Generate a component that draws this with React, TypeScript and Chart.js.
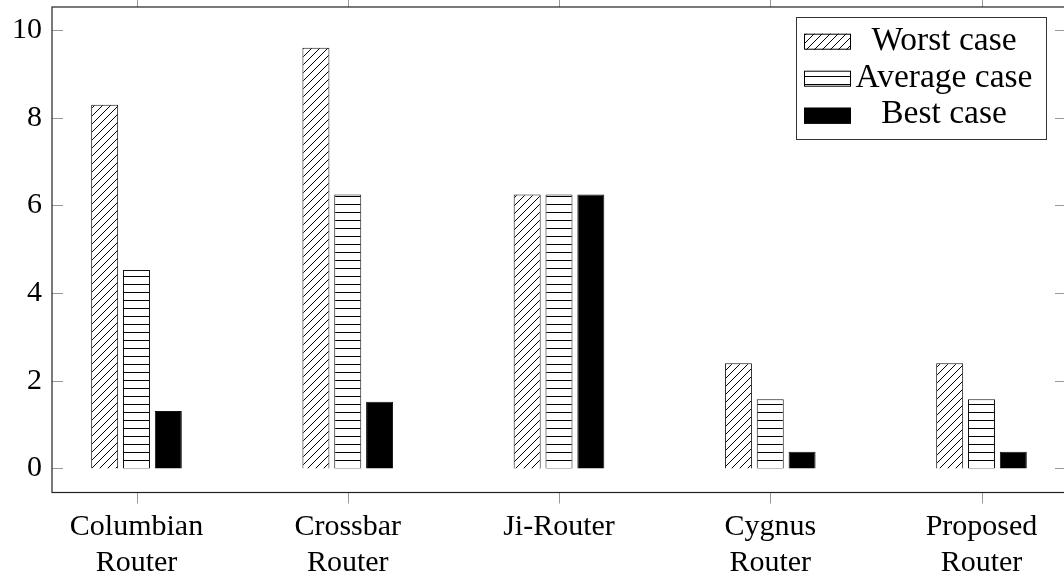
import React, { useEffect, useRef } from "react";
import { Chart, registerables } from "chart.js";

Chart.register(...registerables);

const categories: string[][] = [
  ["Columbian", "Router"],
  ["Crossbar", "Router"],
  ["Ji-Router"],
  ["Cygnus", "Router"],
  ["Proposed", "Router"],
];
const seriesNames = ["Worst case", "Average case", "Best case"];
const worstCase = [8.3, 9.6, 6.25, 2.4, 2.4];
const averageCase = [4.53, 6.25, 6.25, 1.58, 1.58];
const bestCase = [1.31, 1.52, 6.25, 0.38, 0.38];
const yTicks = [0, 2, 4, 6, 8, 10];

const FONT = "'Liberation Serif', 'Times New Roman', serif";

function makeDiag(): CanvasPattern | string {
  const s = 8;
  const c = document.createElement("canvas");
  c.width = s;
  c.height = s;
  const g = c.getContext("2d");
  if (!g) return "#fff";
  g.fillStyle = "#fff";
  g.fillRect(0, 0, s, s);
  g.strokeStyle = "#000";
  g.lineWidth = 1;
  g.beginPath();
  g.moveTo(-1, s + 1);
  g.lineTo(s + 1, -1);
  g.moveTo(-1, 1);
  g.lineTo(1, -1);
  g.moveTo(s - 1, s + 1);
  g.lineTo(s + 1, s - 1);
  g.stroke();
  return g.createPattern(c, "repeat") || "#fff";
}

function makeHoriz(): CanvasPattern | string {
  const s = 8;
  const c = document.createElement("canvas");
  c.width = s;
  c.height = s;
  const g = c.getContext("2d");
  if (!g) return "#fff";
  g.fillStyle = "#fff";
  g.fillRect(0, 0, s, s);
  g.fillStyle = "#000";
  g.fillRect(0, 4, s, 1);
  return g.createPattern(c, "repeat") || "#fff";
}

export default function App() {
  const ref = useRef<HTMLCanvasElement>(null);

  useEffect(() => {
    if (!ref.current) return;
    const diag = makeDiag();
    const horiz = makeHoriz();
    const fills: any[] = [diag, horiz, "#000"];
    const series = [worstCase, averageCase, bestCase];

    const framePlugin = {
      id: "frame",
      afterDatasetsDraw(chart: any) {
        const { ctx, chartArea } = chart;
        const { left, right, top, bottom } = chartArea;
        const xs = chart.scales.x;
        const ys = chart.scales.y;
        ctx.save();
        ctx.strokeStyle = "#999";
        ctx.lineWidth = 1;
        ctx.beginPath();
        yTicks.forEach((v) => {
          const y = Math.round(ys.getPixelForValue(v)) + 0.5;
          ctx.moveTo(left, y);
          ctx.lineTo(left + 11, y);
          ctx.moveTo(right - 11, y);
          ctx.lineTo(right, y);
        });
        categories.forEach((_, i) => {
          const x = Math.round(xs.getPixelForValue(i)) + 0.5;
          ctx.moveTo(x, bottom);
          ctx.lineTo(x, bottom + 11);
          ctx.moveTo(x, top);
          ctx.lineTo(x, top - 11);
        });
        ctx.stroke();
        ctx.strokeStyle = "#222";
        ctx.lineWidth = 1.2;
        ctx.strokeRect(left, top, right - left, bottom - top);
        ctx.restore();
      },
      afterDraw(chart: any) {
        const ctx = chart.ctx;
        ctx.save();
        const bx = 796, by = 17, bw = 250, bh = 122;
        ctx.fillStyle = "#fff";
        ctx.fillRect(bx, by, bw, bh);
        ctx.strokeStyle = "#333";
        ctx.lineWidth = 1;
        ctx.strokeRect(bx + 0.5, by + 0.5, bw, bh);
        const rowsC = [41.7, 78.7, 115.7];
        const baselines = [50, 86.7, 122.7];
        seriesNames.forEach((name, i) => {
          const sx = 804, sw = 47, sh = 16;
          const sy = rowsC[i] - sh / 2;
          ctx.fillStyle = fills[i];
          ctx.fillRect(sx, sy, sw, sh);
          ctx.strokeStyle = "#000";
          ctx.lineWidth = 1;
          ctx.strokeRect(sx + 0.5, sy + 0.5, sw - 1, sh - 1);
          ctx.fillStyle = "#000";
          ctx.font = `33.5px ${FONT}`;
          ctx.textAlign = "center";
          ctx.textBaseline = "alphabetic";
          ctx.fillText(name, 944, baselines[i]);
        });
        ctx.restore();
      },
    };

    const chart = new Chart(ref.current, {
      type: "bar",
      data: {
        datasets: seriesNames.map((name, k) => ({
          label: name,
          data: series[k].map((v, i) => ({ x: i, y: v })),
          backgroundColor: fills[k],
          borderColor: "#111",
          borderWidth: 1,
          categoryPercentage: 0.452,
          barPercentage: 0.848,
        })),
      },
      options: {
        animation: false,
        responsive: false,
        devicePixelRatio: 1,
        layout: { padding: { top: 7, right: 14, left: 0, bottom: 0 } },
        plugins: { legend: { display: false }, tooltip: { enabled: false } },
        scales: {
          x: {
            type: "linear",
            offset: false,
            min: -0.4,
            max: 4.4,
            grid: { display: false, drawTicks: false, offset: false },
            border: { display: false },
            afterBuildTicks: (s: any) => {
              s.ticks = categories.map((_, i) => ({ value: i }));
            },
            afterFit: (s: any) => {
              s.height = 87.5;
              s.paddingLeft = 0;
              s.paddingRight = 0;
            },
            ticks: {
              autoSkip: false,
              maxRotation: 0,
              minRotation: 0,
              padding: 17,
              color: "#000",
              font: { family: FONT, size: 30, lineHeight: 1.19 },
              callback: (v: any) => categories[Math.round(Number(v))] as any,
            },
          },
          y: {
            min: -0.55,
            max: 10.53,
            grid: { display: false, drawTicks: false },
            border: { display: false },
            afterBuildTicks: (s: any) => {
              s.ticks = yTicks.map((v) => ({ value: v }));
            },
            afterFit: (s: any) => {
              s.width = 52;
              s.paddingTop = 0;
              s.paddingBottom = 0;
            },
            ticks: {
              padding: 10,
              color: "#000",
              font: { family: FONT, size: 30 },
              callback: (v: any) => String(v),
            },
          },
        },
      },
      plugins: [framePlugin],
    } as any);

    return () => chart.destroy();
  }, []);

  return (
    <div
      style={{
        position: "fixed",
        left: 0,
        top: 0,
        width: 1064,
        height: 580,
        overflow: "hidden",
        background: "#fff",
      }}
    >
      <canvas
        ref={ref}
        width={1080}
        height={580}
        style={{ display: "block", width: 1080, height: 580 }}
      />
    </div>
  );
}
